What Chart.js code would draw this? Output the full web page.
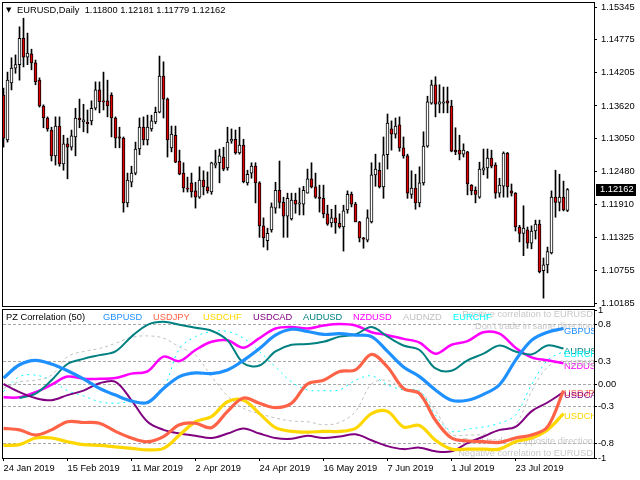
<!DOCTYPE html>
<html>
<head>
<meta charset="utf-8">
<title>EURUSD Daily - PZ Correlation</title>
<script src="https://cdn.jsdelivr.net/npm/chart.js@4.4.1/dist/chart.umd.min.js"></script>
<style>
  html, body { margin: 0; padding: 0; background: #fff; }
  #wrap { position: relative; width: 640px; height: 480px; overflow: hidden; }
  canvas { position: absolute; left: 0; }
  #priceChart { top: 0; }
  #corrChart { top: 306px; }
</style>
</head>
<body>
<div id="wrap">
  <canvas id="priceChart" width="640" height="310"></canvas>
  <canvas id="corrChart" width="640" height="174"></canvas>
</div>
<script>
// EURUSD daily candles, 24 Jan 2019 .. 9 Aug 2019
const opens = [
  1.1381, 1.1303, 1.1402, 1.1428, 1.1434, 1.1480, 1.1447, 1.1453, 1.1437, 1.1407,
  1.1362, 1.1341, 1.1320, 1.1275, 1.1327, 1.1261, 1.1296, 1.1290, 1.1308, 1.1341,
  1.1334, 1.1334, 1.1336, 1.1358, 1.1390, 1.1371, 1.1371, 1.1381, 1.1341, 1.1308,
  1.1306, 1.1193, 1.1229, 1.1245, 1.1287, 1.1325, 1.1303, 1.1322, 1.1334, 1.1351,
  1.1414, 1.1374, 1.1289, 1.1311, 1.1266, 1.1245, 1.1219, 1.1228, 1.1214, 1.1203,
  1.1233, 1.1221, 1.1212, 1.1259, 1.1263, 1.1273, 1.1254, 1.1301, 1.1304, 1.1280,
  1.1294, 1.1228, 1.1245, 1.1257, 1.1228, 1.1153, 1.1127, 1.1146, 1.1184, 1.1215,
  1.1194, 1.1170, 1.1165, 1.1198, 1.1191, 1.1191, 1.1210, 1.1235, 1.1221, 1.1203,
  1.1201, 1.1174, 1.1158, 1.1167, 1.1158, 1.1151, 1.1181, 1.1208, 1.1191, 1.1160,
  1.1132, 1.1128, 1.1160, 1.1242, 1.1250, 1.1221, 1.1277, 1.1322, 1.1313, 1.1329,
  1.1289, 1.1275, 1.1208, 1.1219, 1.1193, 1.1228, 1.1292, 1.1367, 1.1399, 1.1365,
  1.1367, 1.1371, 1.1362, 1.1285, 1.1285, 1.1278, 1.1282, 1.1224, 1.1215, 1.1203,
  1.1250, 1.1254, 1.1271, 1.1259, 1.1210, 1.1222, 1.1280, 1.1214, 1.1210, 1.1151,
  1.1140, 1.1146, 1.1123, 1.1144, 1.1156, 1.1075, 1.1085, 1.1106, 1.1203, 1.1194,
  1.1203, 1.11800
];
const highs = [
  1.1393, 1.1421, 1.1446, 1.1451, 1.1500, 1.1515, 1.1489, 1.1461, 1.1442, 1.1411,
  1.1364, 1.1343, 1.1325, 1.1343, 1.1343, 1.1311, 1.1306, 1.1320, 1.1358, 1.1374,
  1.1365, 1.1355, 1.1371, 1.1404, 1.1404, 1.1421, 1.1407, 1.1385, 1.1343, 1.1325,
  1.1308, 1.1245, 1.1257, 1.1299, 1.1341, 1.1343, 1.1346, 1.1346, 1.1360, 1.1449,
  1.1439, 1.1376, 1.1327, 1.1327, 1.1285, 1.1263, 1.1238, 1.1245, 1.1229, 1.1256,
  1.1249, 1.1247, 1.1264, 1.1285, 1.1287, 1.1290, 1.1325, 1.1322, 1.1320, 1.1325,
  1.1304, 1.1250, 1.1263, 1.1263, 1.1230, 1.1167, 1.1149, 1.1193, 1.1229, 1.1266,
  1.1203, 1.1210, 1.1210, 1.1210, 1.1219, 1.1222, 1.1252, 1.1263, 1.1245, 1.1224,
  1.1224, 1.1189, 1.1182, 1.1189, 1.1174, 1.1189, 1.1214, 1.1212, 1.1194, 1.1161,
  1.1133, 1.1181, 1.1263, 1.1278, 1.1263, 1.1308, 1.1348, 1.1336, 1.1341, 1.1343,
  1.1308, 1.1278, 1.1249, 1.1243, 1.1256, 1.1317, 1.1379, 1.1407, 1.1413, 1.1399,
  1.1395, 1.1395, 1.1372, 1.1324, 1.1311, 1.1296, 1.1283, 1.1225, 1.1221, 1.1264,
  1.1287, 1.1287, 1.1285, 1.1263, 1.1236, 1.1282, 1.1281, 1.1226, 1.1211, 1.1154,
  1.1188, 1.1151, 1.1153, 1.1163, 1.1163, 1.1097, 1.1116, 1.1214, 1.1250, 1.1243,
  1.1231, 1.12181
];
const lows = [
  1.1290, 1.1299, 1.1390, 1.1419, 1.1407, 1.1430, 1.1434, 1.1425, 1.1399, 1.1360,
  1.1324, 1.1318, 1.1266, 1.1259, 1.1257, 1.1250, 1.1235, 1.1285, 1.1275, 1.1324,
  1.1317, 1.1315, 1.1329, 1.1355, 1.1350, 1.1355, 1.1343, 1.1308, 1.1289, 1.1289,
  1.1177, 1.1186, 1.1221, 1.1242, 1.1277, 1.1294, 1.1294, 1.1318, 1.1331, 1.1350,
  1.1341, 1.1273, 1.1282, 1.1263, 1.1242, 1.1212, 1.1212, 1.1203, 1.1184, 1.1201,
  1.1207, 1.1210, 1.1208, 1.1254, 1.1228, 1.1249, 1.1250, 1.1297, 1.1278, 1.1278,
  1.1228, 1.1224, 1.1236, 1.1193, 1.1133, 1.1116, 1.1111, 1.1142, 1.1175, 1.1184,
  1.1133, 1.1133, 1.1163, 1.1175, 1.1172, 1.1172, 1.1210, 1.1219, 1.1201, 1.1177,
  1.1167, 1.1154, 1.1151, 1.1140, 1.1149, 1.1109, 1.1175, 1.1186, 1.1160, 1.1125,
  1.1114, 1.1125, 1.1158, 1.1222, 1.1219, 1.1201, 1.1252, 1.1285, 1.1306, 1.1283,
  1.1271, 1.1201, 1.1201, 1.1182, 1.1186, 1.1224, 1.1290, 1.1365, 1.1343, 1.1350,
  1.1350, 1.1350, 1.1282, 1.1277, 1.1268, 1.1273, 1.1207, 1.1207, 1.1193, 1.1201,
  1.1242, 1.1236, 1.1254, 1.1201, 1.1203, 1.1203, 1.1203, 1.1205, 1.1144, 1.1125,
  1.1101, 1.1114, 1.1113, 1.1130, 1.1071, 1.1027, 1.1071, 1.1104, 1.1168, 1.1179,
  1.1179, 1.11779
];
const closes = [
  1.1306, 1.1407, 1.1428, 1.1434, 1.1480, 1.1447, 1.1454, 1.1437, 1.1404, 1.1362,
  1.1341, 1.1322, 1.1275, 1.1327, 1.1261, 1.1296, 1.1290, 1.1310, 1.1341, 1.1338,
  1.1338, 1.1331, 1.1358, 1.1390, 1.1369, 1.1369, 1.1362, 1.1341, 1.1306, 1.1306,
  1.1193, 1.1233, 1.1245, 1.1287, 1.1325, 1.1303, 1.1325, 1.1336, 1.1351, 1.1414,
  1.1374, 1.1303, 1.1313, 1.1264, 1.1243, 1.1219, 1.1217, 1.1212, 1.1203, 1.1233,
  1.1221, 1.1214, 1.1263, 1.1263, 1.1275, 1.1252, 1.1299, 1.1304, 1.1280, 1.1294,
  1.1230, 1.1243, 1.1257, 1.1228, 1.1153, 1.1132, 1.1140, 1.1186, 1.1215, 1.1194,
  1.1170, 1.1201, 1.1198, 1.1191, 1.1193, 1.1215, 1.1235, 1.1221, 1.1203, 1.1201,
  1.1174, 1.1156, 1.1167, 1.1158, 1.1151, 1.1179, 1.1208, 1.1191, 1.1160, 1.1132,
  1.1130, 1.1167, 1.1242, 1.1252, 1.1221, 1.1277, 1.1332, 1.1313, 1.1327, 1.1289,
  1.1275, 1.1210, 1.1219, 1.1193, 1.1228, 1.1292, 1.1369, 1.1399, 1.1365, 1.1369,
  1.1369, 1.1367, 1.1283, 1.1282, 1.1278, 1.1285, 1.1226, 1.1214, 1.1208, 1.1252,
  1.1254, 1.1271, 1.1257, 1.1210, 1.1224, 1.1280, 1.1221, 1.1210, 1.1151, 1.1140,
  1.1149, 1.1123, 1.1144, 1.1156, 1.1073, 1.1085, 1.1108, 1.1203, 1.1194, 1.1203,
  1.1181, 1.12162
];
const priceTicks = [1.15345, 1.14775, 1.14205, 1.13620, 1.13050, 1.12480, 1.11910, 1.11325, 1.10755, 1.10185];

// PZ Correlation (50), read every 4th bar
const sampleBars = [0, 4, 8, 12, 16, 20, 24, 28, 32, 36, 40, 44, 48, 52, 56, 60, 64, 68, 72, 76,
                    80, 84, 88, 92, 96, 100, 104, 108, 112, 116, 120, 124, 128, 132, 136, 140];
const gbpusd = [0.08, 0.26, 0.32, 0.27, 0.18, 0.07, -0.06, -0.15, -0.23, -0.25, -0.06, 0.10, 0.15, 0.14, 0.19, 0.32, 0.48, 0.66, 0.74, 0.71,
                0.67, 0.68, 0.66, 0.64, 0.44, 0.23, 0.10, -0.08, -0.22, -0.22, -0.14, -0.01, 0.32, 0.59, 0.70, 0.75];
const usdjpy = [-0.60, -0.62, -0.69, -0.62, -0.51, -0.52, -0.53, -0.64, -0.73, -0.78, -0.71, -0.55, -0.53, -0.59, -0.37, -0.19, -0.26, -0.32, -0.26, 0.00,
                0.05, 0.17, 0.19, 0.40, 0.23, -0.06, -0.13, -0.49, -0.73, -0.77, -0.78, -0.79, -0.73, -0.69, -0.58, -0.09];
const usdchf = [-0.83, -0.82, -0.73, -0.73, -0.78, -0.82, -0.83, -0.85, -0.87, -0.89, -0.87, -0.69, -0.51, -0.44, -0.24, -0.22, -0.40, -0.59, -0.64, -0.65,
                -0.64, -0.64, -0.60, -0.40, -0.37, -0.58, -0.56, -0.76, -0.88, -0.88, -0.88, -0.88, -0.78, -0.73, -0.62, -0.40];
const usdcad = [0.00, -0.11, -0.19, -0.22, -0.15, -0.09, 0.01, 0.03, -0.22, -0.51, -0.62, -0.67, -0.70, -0.73, -0.67, -0.60, -0.67, -0.73, -0.74, -0.70,
                -0.73, -0.71, -0.68, -0.76, -0.84, -0.88, -0.86, -0.91, -0.91, -0.80, -0.71, -0.62, -0.58, -0.37, -0.25, -0.11];
const audusd = [null, -0.19, -0.13, 0.05, 0.27, 0.34, 0.39, 0.44, 0.64, 0.80, 0.84, 0.80, 0.76, 0.72, 0.59, 0.28, 0.25, 0.44, 0.53, 0.54,
                0.57, 0.64, 0.67, 0.77, 0.64, 0.52, 0.46, 0.21, 0.18, 0.32, 0.41, 0.52, 0.44, 0.40, 0.52, 0.48];
const nzdusd = [-0.18, -0.18, -0.11, -0.01, 0.10, 0.07, 0.07, 0.08, 0.14, 0.17, 0.37, 0.31, 0.46, 0.57, 0.59, 0.49, 0.62, 0.75, 0.77, 0.75,
                0.79, 0.81, 0.79, 0.70, 0.66, 0.61, 0.56, 0.41, 0.53, 0.58, 0.70, 0.68, 0.49, 0.36, 0.32, 0.28];
const audnzd = [-0.06, 0.03, 0.05, 0.12, 0.37, 0.44, 0.48, 0.55, 0.63, 0.65, 0.62, 0.50, 0.39, 0.10, -0.16, -0.33, -0.40, -0.46, -0.50, -0.51,
                -0.55, -0.52, -0.37, 0.00, 0.05, -0.07, -0.10, -0.36, -0.68, -0.69, -0.68, -0.62, -0.55, -0.10, 0.23, 0.32];
const eurchf = [-0.10, 0.10, 0.12, 0.05, -0.09, -0.16, -0.24, -0.26, -0.24, -0.24, -0.06, 0.48, 0.64, 0.71, 0.71, 0.62, 0.44, 0.23, 0.03, -0.08,
                -0.09, -0.08, 0.05, 0.11, -0.01, -0.08, -0.09, -0.42, -0.64, -0.61, -0.58, -0.53, -0.42, -0.01, 0.32, 0.44];

const pairNames = ['GBPUSD', 'USDJPY', 'USDCHF', 'USDCAD', 'AUDUSD', 'NZDUSD', 'AUDNZD', 'EURCHF'];
const pairValues = [gbpusd, usdjpy, usdchf, usdcad, audusd, nzdusd, audnzd, eurchf];

const corrTicks = [1, 0.8, 0.3, 0, -0.3, -0.8, -1];
const corrTickText = ['1', '0.8', '0.3', '0.00', '-0.3', '-0.8', '-1'];
const dateTickBars = [0, 16, 32, 48, 64, 80, 96, 112, 128];
const dateTickText = ['24 Jan 2019', '15 Feb 2019', '11 Mar 2019', '2 Apr 2019', '24 Apr 2019',
                      '16 May 2019', '7 Jun 2019', '1 Jul 2019', '23 Jul 2019'];

// styles
const pairColors = ['#1E90FF', '#FF6347', '#FFD700', '#800080', '#008080', '#FF00FF', '#C0C0C0', '#00FFFF'];
const pairWidths = [3.2, 3.2, 3.2, 2, 2, 2.5, 1, 1];
const pairDash = [[], [], [], [], [], [], [3, 3], [2, 4]];
const BEAR = '#E00000';
const FAMILY = '"Liberation Sans", Arial, sans-serif';
const FSIZE = 9.3;
const FONT = FSIZE + 'px ' + FAMILY;
const X_MIN = -0.125, X_MAX = 147.625;   // 4 px per bar, room on the right

const panelFrame = {
  id: 'panelFrame',
  afterDraw(chart) {
    const a = chart.chartArea, c = chart.ctx;
    c.save();
    c.strokeStyle = '#000';
    c.lineWidth = 1;
    c.strokeRect(Math.round(a.left) - 0.5, Math.round(a.top) - 0.5,
                 Math.round(a.right - a.left) + 1, Math.round(a.bottom - a.top) + 1);
    c.restore();
  }
};

const priceText = {
  id: 'priceText',
  afterDraw(chart) {
    const c = chart.ctx, last = closes.length - 1;
    c.save();
    c.fillStyle = '#000';
    c.textBaseline = 'middle';
    c.font = '7px "DejaVu Sans"';
    c.fillText('\u25BC', 6, 10.5);
    c.font = FONT;
    c.fillText('EURUSD,Daily  ' + opens[last].toFixed(5) + ' ' + highs[last].toFixed(5) + ' ' +
               lows[last].toFixed(5) + ' ' + closes[last].toFixed(5), 17, 10.5);
    // current price tag
    const y = chart.scales.y.getPixelForValue(closes[last]);
    c.fillRect(596, Math.round(y) - 6, 40, 12);
    c.fillStyle = '#fff';
    c.fillText(closes[last].toFixed(5), 600, y);
    c.restore();
  }
};

const corrText = {
  id: 'corrText',
  beforeDatasetsDraw(chart) {
    const c = chart.ctx, a = chart.chartArea;
    c.save();
    c.font = FONT;
    c.textBaseline = 'middle';
    c.fillStyle = '#C8C8C8';
    c.textAlign = 'right';
    c.fillText('Positive correlation to EURUSD', a.right - 1, 8);
    c.fillText("Don't trade in same direction", a.right - 1, 20);
    c.fillText("Don't trade in opposite direction", a.right - 1, 135);
    c.fillText('Negative correlation to EURUSD', a.right - 1, 147);
    c.textAlign = 'left';
    c.fillStyle = '#000';
    c.fillText('PZ Correlation (50)', 6, 11);
    pairNames.forEach((n, k) => {
      c.fillStyle = pairColors[k];
      c.fillText(n, 103 + 50 * k, 11);
    });
    c.restore();
  },
  afterDatasetsDraw(chart) {
    const c = chart.ctx, a = chart.chartArea, ys = chart.scales.y;
    c.save();
    c.beginPath();
    c.rect(a.left, a.top, a.right - a.left, a.bottom - a.top);
    c.clip();
    c.font = FONT;
    c.textBaseline = 'middle';
    pairNames.forEach((n, k) => {
      const v = pairValues[k];
      c.fillStyle = pairColors[k];
      c.fillText(n, a.right - 30, ys.getPixelForValue(v[v.length - 1]) + 3);
    });
    c.restore();
  }
};

const bars = closes.map((c, i) => i);

new Chart(document.getElementById('priceChart'), {
  type: 'bar',
  data: {
    datasets: [
      {
        label: 'body',
        data: bars.map(i => ({ x: i, y: [opens[i], closes[i]] })),
        backgroundColor: bars.map(i => closes[i] < opens[i] ? BEAR : '#FFFFFF'),
        borderColor: '#000',
        borderWidth: 1,
        borderSkipped: false,
        barThickness: 3,
        minBarLength: 1,
        grouped: false
      },
      {
        label: 'wick',
        data: bars.map(i => ({ x: i, y: [lows[i], highs[i]] })),
        backgroundColor: '#000',
        borderWidth: 0,
        barThickness: 1,
        grouped: false
      }
    ]
  },
  options: {
    responsive: false,
    animation: false,
    events: [],
    layout: { padding: { left: 3, top: 3, right: 0, bottom: 4 } },
    plugins: { legend: { display: false }, tooltip: { enabled: false } },
    scales: {
      x: { type: 'linear', min: X_MIN, max: X_MAX, offset: false, display: false },
      y: {
        position: 'right',
        min: 1.10133,
        max: 1.15415,
        afterBuildTicks: s => { s.ticks = priceTicks.map(v => ({ value: v })); },
        afterFit: s => { s.width = 46; s.paddingTop = 0; s.paddingBottom = 0; },
        ticks: { callback: v => v.toFixed(5), color: '#000', font: { family: FAMILY, size: FSIZE }, padding: 4, autoSkip: false },
        grid: { drawOnChartArea: false, tickLength: 3, tickColor: '#000' },
        border: { display: false }
      }
    }
  },
  plugins: [panelFrame, priceText]
});

new Chart(document.getElementById('corrChart'), {
  type: 'line',
  data: {
    datasets: pairNames.map((name, k) => ({
      label: name,
      data: sampleBars.map((b, j) => ({ x: b, y: pairValues[k][j] })),
      borderColor: pairColors[k],
      borderWidth: pairWidths[k],
      borderDash: pairDash[k],
      pointRadius: 0,
      tension: 0.35,
      fill: false,
      spanGaps: true
    }))
  },
  options: {
    responsive: false,
    animation: false,
    events: [],
    layout: { padding: { left: 3, top: 4, right: 0, bottom: 0 } },
    plugins: { legend: { display: false }, tooltip: { enabled: false } },
    scales: {
      x: {
        type: 'linear', min: X_MIN, max: X_MAX, offset: false,
        afterBuildTicks: s => { s.ticks = dateTickBars.map(v => ({ value: v })); },
        afterFit: s => { s.height = 22; s.paddingLeft = 0; s.paddingRight = 0; },
        ticks: {
          callback: v => dateTickText[dateTickBars.indexOf(v)],
          align: 'start', maxRotation: 0, autoSkip: false,
          color: '#000', font: { family: FAMILY, size: FSIZE }, padding: 2
        },
        grid: { drawOnChartArea: false, tickLength: 3, tickColor: '#000' },
        border: { display: false }
      },
      y: {
        position: 'right', min: -1, max: 1,
        afterBuildTicks: s => { s.ticks = corrTicks.map(v => ({ value: v })); },
        afterFit: s => { s.width = 46; s.paddingTop = 0; s.paddingBottom = 0; },
        ticks: {
          callback: v => corrTickText[corrTicks.indexOf(v)],
          color: '#000', font: { family: FAMILY, size: FSIZE }, padding: 1, autoSkip: false
        },
        grid: {
          color: c => (c.tick && Math.abs(c.tick.value) === 1) ? 'rgba(0,0,0,0)' : '#A8A8A8',
          tickColor: '#000', tickLength: 3
        },
        border: { display: false, dash: [3, 2] }
      }
    }
  },
  plugins: [panelFrame, corrText]
});
</script>
</body>
</html>
